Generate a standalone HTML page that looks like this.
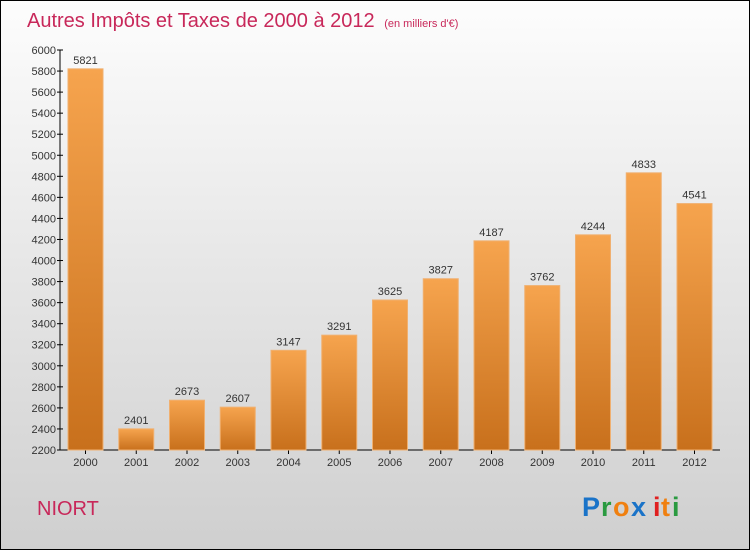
<!DOCTYPE html>
<html><head><meta charset="utf-8"><style>
body{margin:0;}
#c{width:750px;height:550px;display:block;}
text{font-family:"Liberation Sans",sans-serif;}
</style></head><body>
<svg id="c" width="750" height="550" xmlns="http://www.w3.org/2000/svg">
<defs>
<linearGradient id="bg" x1="0" y1="0" x2="0" y2="1"><stop offset="0" stop-color="#fdfdfd"/><stop offset="1" stop-color="#cfcfcf"/></linearGradient>
<linearGradient id="bar" x1="0" y1="0" x2="0" y2="1"><stop offset="0" stop-color="#f6a44e"/><stop offset="1" stop-color="#c8701c"/></linearGradient>
</defs>
<rect x="0.5" y="0.5" width="749" height="549" fill="url(#bg)" stroke="#000"/>
<text x="27" y="27" font-size="20" fill="#c8285a">Autres Impôts et Taxes de 2000 à 2012 <tspan font-size="11" dx="4">(en milliers d'€)</tspan></text>
<g id="axes"></g>
<g id="bars"></g>
<text x="37" y="515" font-size="20" fill="#c8285a">NIORT</text>
<g font-size="27" font-weight="bold">
<text x="582" y="516" fill="#1a73c8">P</text><text x="601" y="516" fill="#2a9a40">r</text><text x="613" y="516" fill="#f08010">o</text><text x="631" y="516" fill="#1a73c8">x</text><text x="653" y="516" fill="#e02020">i</text><text x="661" y="516" fill="#f08010">t</text><text x="672" y="516" fill="#2a9a40">i</text>
</g>
</svg>
<script>
const years=["2000","2001","2002","2003","2004","2005","2006","2007","2008","2009","2010","2011","2012"];
const values=[5821,2401,2673,2607,3147,3291,3625,3827,4187,3762,4244,4833,4541];
const yTicks=[2200,2400,2600,2800,3000,3200,3400,3600,3800,4000,4200,4400,4600,4800,5000,5200,5400,5600,5800,6000];
const NS="http://www.w3.org/2000/svg";
const yMin=2200,yMax=6000,plotTop=50,plotBot=450,x0=60,x1=720;
const y=v=>plotBot-(v-yMin)/(yMax-yMin)*(plotBot-plotTop);
const step=50.75,first=85.5,bw=35;
const x=i=>first+i*step;
function mk(t,a,p){const e=document.createElementNS(NS,t);for(const k in a)e.setAttribute(k,a[k]);p.appendChild(e);return e;}
const ax=document.getElementById('axes'),bg=document.getElementById('bars');
const ya=mk('line',{x1:x0,y1:plotTop,x2:x0,y2:plotBot,stroke:'#000'},ax);


const xa=mk('line',{x1:x0,y1:plotBot,x2:x1,y2:plotBot,stroke:'#000'},ax);


yTicks.forEach(v=>{
 mk('line',{x1:x0-3,y1:y(v),x2:x0+3,y2:y(v),stroke:'#000'},ax);
 const t=mk('text',{x:x0-4,y:y(v)+4,'font-size':11,'text-anchor':'end',fill:'#333'},ax);
 t.textContent=v;
 
 
});
values.forEach((v,i)=>{
 const r=mk('rect',{x:x(i)-bw/2,y:y(v),width:bw,height:plotBot-y(v),fill:'url(#bar)',stroke:'#f0b070','stroke-width':1},bg);
 
 
 const t=mk('text',{x:x(i),y:y(v)-5,'font-size':11,'text-anchor':'middle',fill:'#333'},bg);
 t.textContent=v;
 
 
 mk('line',{x1:x(i),y1:plotBot,x2:x(i),y2:plotBot+4,stroke:'#000'},ax);
 const l=mk('text',{x:x(i),y:plotBot+16,'font-size':11,'text-anchor':'middle',fill:'#333'},ax);
 l.textContent=years[i];
 
 
});
</script>
</body></html>
